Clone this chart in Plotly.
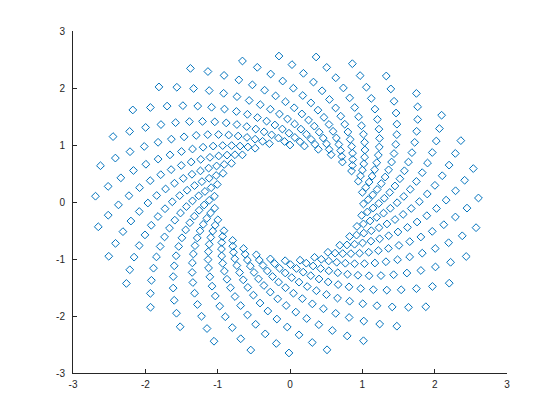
import numpy as np
import plotly.graph_objects as go

# The marks lie on one sampled logarithmic spiral read from the picture:
# it starts at (0, 1) on top, winds clockwise about 16 turns (about 31 marks
# per turn, arms twisting by about 4 degrees each turn) and ends at radius ~2.72
# near (-1.37, 2.35).
spiral_param_start = 0.0
spiral_param_end = 100.0
spiral_mark_count = 500
spiral_growth_per_unit = 0.01

tick_vals = [-3, -2, -1, 0, 1, 2, 3]
tick_text = ["-3", "-2", "-1", "0", "1", "2", "3"]

t = np.linspace(spiral_param_start, spiral_param_end, spiral_mark_count)
radius = np.exp(spiral_growth_per_unit * t)
x_vals = radius * np.sin(t)
y_vals = radius * np.cos(t)

blue = "#0072BD"
axis_color = "#262626"

fig = go.Figure(
    go.Scatter(
        x=x_vals,
        y=y_vals,
        mode="markers",
        marker=dict(symbol="diamond-open", size=6, color=blue,
                    line=dict(width=1, color=blue)),
        hoverinfo="skip",
    )
)

# the page body adds an 8 px offset, so the figure is 8 px smaller on each side
fig.update_layout(
    width=552,
    height=412,
    autosize=False,
    margin=dict(l=65, r=53, t=23, b=47),
    paper_bgcolor="white",
    plot_bgcolor="white",
    showlegend=False,
    font=dict(family="Liberation Sans", size=10, color=axis_color),
)

axis_common = dict(
    range=[-3, 3],
    tickvals=tick_vals,
    ticktext=tick_text,
    ticks="inside",
    ticklen=4,
    tickwidth=1,
    tickcolor=axis_color,
    showline=True,
    linecolor=axis_color,
    linewidth=1,
    showgrid=False,
    zeroline=False,
    mirror=False,
    fixedrange=True,
)
fig.update_xaxes(**axis_common, ticklabelstandoff=2)
fig.update_yaxes(**axis_common, ticklabelstandoff=5)

fig.write_html("out.html")
